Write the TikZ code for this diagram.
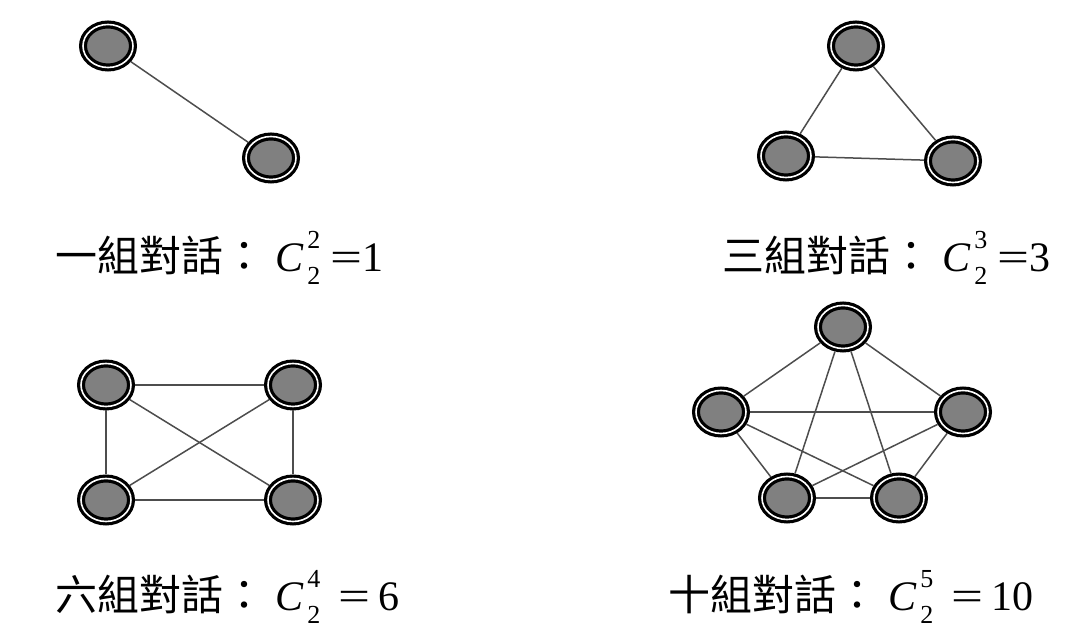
\documentclass[tikz,border=0pt]{standalone}
\usepackage{fontspec}
\setmainfont{Liberation Serif}
\newfontfamily\cjkfont{Noto Sans CJK TC}
\usetikzlibrary{shapes.geometric}
\definecolor{c808080}{RGB}{128,128,128}
\definecolor{c4d4d4d}{RGB}{77,77,77}
\newcommand\pairC[2]{\textit{C}\kern1.5pt\rlap{\raisebox{0.55em}{\fontsize{13}{13}\selectfont#1}}%
  \raisebox{-0.3em}{\fontsize{13}{13}\selectfont#2}}
\newcommand\eqbar{\scalebox{1.35}[1]{=}}

\begin{document}
\begin{tikzpicture}[x=0.5pt,y=0.5pt,yscale=-1,
  dot/.style={ellipse,fill=c808080,draw=black,line width=1.6pt,double=white,
    double distance=0.8pt,minimum width=25pt,minimum height=21.5pt,
    inner sep=0pt,outer sep=2pt},
  link/.style={draw=c4d4d4d,line width=0.75pt},
  caption/.style={anchor=base west,inner sep=0pt,font=\fontsize{21}{24}\selectfont}]
  \useasboundingbox (0,0) rectangle (1073,635);

  % one pair
  \node[dot] (oneA) at (108,46) {};
  \node[dot] (oneB) at (271,158) {};
  \path[link] (oneA) -- (oneB);
  \node[caption] (text1) at (55,272) {{\cjkfont 一組對話：}\ \pairC{2}{2}\kern5pt\eqbar1};

  % three pairs
  \node[dot] (triA) at (856,46) {};
  \node[dot] (triB) at (786,156) {};
  \node[dot] (triC) at (953,161) {};
  \path[link] (triA) -- (triB) -- (triC) -- (triA);
  \node[caption] (text2) at (722,272) {{\cjkfont 三組對話：}\ \pairC{3}{2}\kern5pt\eqbar3};

  % six pairs
  \node[dot] (quadA) at (106,385) {};
  \node[dot] (quadB) at (293,385) {};
  \node[dot] (quadC) at (106,500) {};
  \node[dot] (quadD) at (293,500) {};
  \path[link] (quadA) -- (quadB) -- (quadD) -- (quadC) -- (quadA);
  \path[link] (quadA) -- (quadD);
  \path[link] (quadB) -- (quadC);
  \node[caption] (text3) at (55,611) {{\cjkfont 六組對話：}\ \pairC{4}{2}\kern9pt\eqbar\kern4pt 6};

  % ten pairs
  \node[dot] (pentA) at (843,327) {};
  \node[dot] (pentB) at (721,412) {};
  \node[dot] (pentC) at (963,412) {};
  \node[dot] (pentD) at (787,498) {};
  \node[dot] (pentE) at (899,498) {};
  \foreach \i/\j in {A/B,A/C,A/D,A/E,B/C,B/D,B/E,C/D,C/E,D/E}
    \path[link] (pent\i) -- (pent\j);
  \node[caption] (text4) at (668,611) {{\cjkfont 十組對話：}\ \pairC{5}{2}\kern9pt\eqbar\kern4pt 10};

\end{tikzpicture}
\end{document}
